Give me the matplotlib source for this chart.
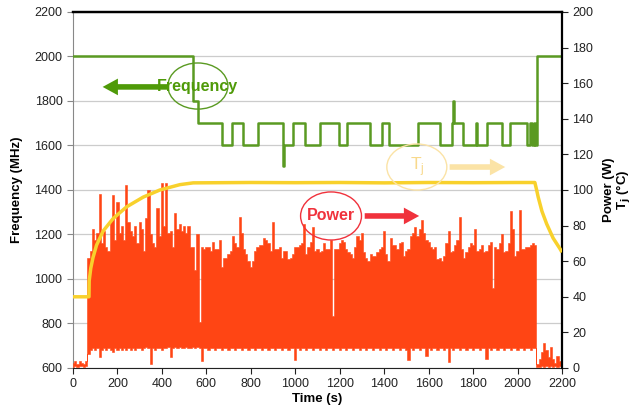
import matplotlib
matplotlib.use("Agg")
import matplotlib.pyplot as plt
from matplotlib.patches import Ellipse
import numpy as np

plt.rcParams['font.family'] = ['Liberation Sans', 'DejaVu Sans']

# frequency steps (MHz), drawn as steps-post
freq_t = [0, 538, 564, 669, 717, 766, 834, 943, 948, 991,
          1044, 1111, 1195, 1234, 1336, 1389, 1423, 1553, 1651, 1704,
          1711, 1716, 1753, 1811, 1818, 1861, 1929, 1966, 2041, 2056,
          2064, 2072, 2080, 2089, 2200]
freq_mhz = [2000, 1800, 1700, 1600, 1700, 1600, 1700, 1510, 1600, 1700,
            1600, 1700, 1600, 1700, 1600, 1700, 1600, 1700, 1600, 1700,
            1800, 1700, 1600, 1700, 1600, 1700, 1600, 1700, 1600, 1700,
            1600, 1700, 1600, 2000, 2000]

# junction temperature (C)
tj_t = [0, 72, 73, 80, 90, 106, 136, 181, 241, 316, 391, 481, 541,
        800, 1000, 1200, 1400, 1600, 1800, 2000, 2078,
        2086, 2093, 2110, 2131, 2160, 2191, 2200]
tj_c = [40, 40, 49, 56, 62, 69, 77, 84, 90.5, 96, 100, 103, 104,
        104.2, 104.1, 104.2, 104, 104.2, 104.1, 104.2, 104.2,
        100, 96, 88, 81, 73, 67, 65]

# power samples every 10 s: top and bottom of the trace (W)
power_t = np.arange(0, 2201, 10)
power_hi = [3, 4, 2, 4, 3, 2, 4, 62, 66, 78,
            72, 76, 98, 70, 77, 68, 66, 83, 97, 72,
            93, 76, 80, 72, 103, 82, 77, 74, 80, 70,
            82, 78, 66, 84, 100, 75, 70, 68, 90, 74,
            104, 80, 104, 76, 77, 68, 87, 78, 81, 77,
            80, 76, 80, 68, 68, 55, 75, 26, 68, 67,
            68, 68, 66, 71, 67, 67, 72, 57, 62, 62,
            64, 66, 74, 70, 68, 85, 76, 67, 64, 60,
            57, 60, 66, 68, 69, 69, 73, 72, 70, 66,
            82, 67, 67, 68, 62, 66, 66, 61, 62, 64,
            68, 68, 69, 70, 81, 64, 68, 71, 79, 66,
            67, 65, 66, 70, 67, 67, 72, 29, 67, 67,
            70, 72, 71, 67, 65, 64, 62, 68, 74, 72,
            76, 65, 62, 60, 64, 63, 63, 65, 67, 68,
            77, 64, 60, 73, 69, 69, 67, 70, 71, 63,
            66, 67, 74, 76, 79, 74, 78, 83, 76, 72,
            71, 68, 67, 68, 61, 62, 60, 63, 70, 77,
            65, 66, 69, 72, 85, 67, 62, 65, 68, 70,
            69, 78, 66, 67, 69, 65, 66, 69, 71, 45,
            68, 67, 70, 75, 65, 66, 70, 88, 78, 63,
            66, 89, 67, 67, 68, 68, 69, 70, 69, 2,
            5, 9, 14, 10, 6, 12, 5, 3, 7, 4,
            3]
power_lo = [0.5, 1, 0.5, 1, 1, 0.5, 1, 8, 10, 11,
            10, 11, 6, 10, 11, 10, 11, 10, 9, 11,
            10, 11, 10, 11, 10, 11, 10, 11, 10, 11,
            11, 10, 11, 12, 11, 2, 11, 10, 11, 11,
            10, 11, 11, 12, 6, 11, 12, 11, 12, 11,
            11, 12, 11, 11, 12, 11, 12, 11, 4, 11,
            11, 10, 11, 11, 10, 11, 11, 10, 11, 11,
            10, 11, 11, 10, 11, 11, 10, 11, 11, 10,
            11, 11, 10, 11, 11, 10, 11, 11, 10, 11,
            11, 10, 11, 11, 10, 11, 11, 10, 11, 11,
            4.5, 11, 10, 11, 11, 10, 11, 11, 10, 11,
            11, 10, 11, 11, 10, 11, 11, 10, 11, 11,
            10, 11, 11, 10, 11, 11, 10, 11, 11, 10,
            11, 11, 10, 11, 11, 10, 11, 11, 10, 11,
            11, 10, 11, 11, 10, 11, 11, 10, 11, 11,
            10, 4.5, 11, 10, 11, 11, 10, 11, 11, 7,
            11, 10, 11, 11, 10, 11, 11, 10, 11, 3.5,
            11, 10, 11, 11, 10, 11, 11, 10, 11, 11,
            10, 11, 11, 10, 11, 11, 5, 11, 10, 11,
            11, 10, 11, 11, 10, 11, 11, 10, 11, 11,
            10, 11, 11, 10, 11, 11, 10, 11, 11, 0.5,
            0.5, 1, 0.5, 1, 0.5, 1, 0.5, 1, 0.5, 1,
            0.5]

green = '#5a9a22'
red = '#ff4514'
yellow = '#f8d12c'

fig = plt.figure(figsize=(6.34, 4.16), dpi=100)
ax = fig.add_axes([0.1151, 0.1154, 0.7713, 0.8558])
ax2 = ax.twinx()

ax.plot(freq_t, freq_mhz, drawstyle='steps-post', color=green, lw=1.8, zorder=3)
ax.set_xlim(0, 2200)
ax.set_ylim(600, 2200)
ax.set_xticks(range(0, 2201, 200))
ax.set_yticks(range(600, 2201, 200))
ax.yaxis.grid(True, color='#cccccc', lw=0.9)
ax.set_axisbelow(True)

ax2.fill_between(power_t, power_lo, power_hi, step='mid', color=red, lw=0.4,
                 edgecolor=red, zorder=2)
ax2.plot(tj_t, tj_c, color=yellow, lw=2.5, zorder=4, solid_capstyle='butt')
ax2.set_ylim(0, 200)
ax2.set_yticks(range(0, 201, 20))

for a in (ax, ax2):
    a.tick_params(labelsize=9, colors='#222222', length=4, width=0.8)
ax.tick_params(axis='y', colors='#888888', labelcolor='#222222')
ax.spines['left'].set_color('#888888')
ax.spines['bottom'].set_color('#222222')
ax.spines['top'].set_linewidth(1.6)
ax.spines['right'].set_visible(False)
ax2.spines['left'].set_visible(False)
ax2.spines['bottom'].set_visible(False)
ax2.spines['right'].set_linewidth(1.6)
ax2.spines['top'].set_linewidth(1.6)

ax.set_xlabel('Time (s)', fontsize=9.5, fontweight='bold', labelpad=2)
ax.set_ylabel('Frequency (MHz)', fontsize=9.5, fontweight='bold', labelpad=8)
ax2.set_ylabel('Power (W)\nT$_\\mathbf{j}$ (°C)', fontsize=9.5, fontweight='bold',
               labelpad=7, linespacing=1.0)

# annotations (right-axis coordinates)
ax2.add_patch(Ellipse((562, 158.4), 270, 25.9, fill=False, ec=green, lw=1.0, zorder=6))
ax2.annotate('', xy=(121, 157.9), xytext=(440, 157.9),
             arrowprops=dict(arrowstyle='simple,head_length=1.1,head_width=1.2,tail_width=0.4',
                             color='#4f9a08', lw=0), zorder=6)
ax2.text(560, 157.9, 'Frequency', color='#4f9a08', fontsize=11.5, fontweight='bold',
         ha='center', va='center', zorder=7)

ax2.add_patch(Ellipse((1161, 85.4), 274, 27, fill=False, ec='#f0323c', lw=1.0, zorder=6))
ax2.annotate('', xy=(1570, 85.4), xytext=(1300, 85.4),
             arrowprops=dict(arrowstyle='simple,head_length=1.1,head_width=1.2,tail_width=0.4',
                             color='#f0323c', lw=0), zorder=6)
ax2.text(1161, 85.4, 'Power', color='#f0323c', fontsize=11.5, fontweight='bold',
         ha='center', va='center', zorder=7)

ax2.add_patch(Ellipse((1547, 112.9), 270, 25.9, fill=False, ec='#fbe3a6', lw=1.0, zorder=6))
ax2.annotate('', xy=(1957, 112.9), xytext=(1682, 112.9),
             arrowprops=dict(arrowstyle='simple,head_length=1.1,head_width=1.2,tail_width=0.4',
                             color='#fbe3a6', lw=0), zorder=6)
ax2.text(1547, 112.9, 'T$_\\mathregular{j}$', color='#f8d98c', fontsize=12.5,
         ha='center', va='center', zorder=7)

fig.savefig('out.png', dpi=100)
